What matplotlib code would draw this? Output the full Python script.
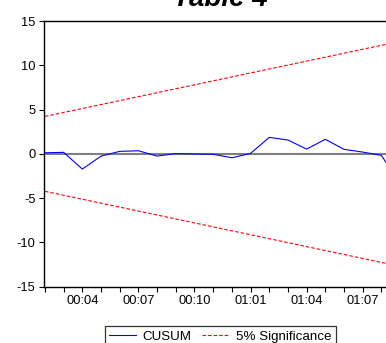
import matplotlib
matplotlib.use("Agg")
import matplotlib.pyplot as plt

plt.rcParams["font.family"] = ["Liberation Sans", "DejaVu Sans"]

# monthly periods (yy:mm)
months = ["00:02", "00:03", "00:04", "00:05", "00:06", "00:07", "00:08",
          "00:09", "00:10", "00:11", "00:12", "01:01", "01:02", "01:03",
          "01:04", "01:05", "01:06", "01:07", "01:08", "01:09"]
shown_labels = ["00:04", "00:07", "00:10", "01:01", "01:04", "01:07"]

cusum = [0.12, 0.17, -1.72, -0.26, 0.28, 0.35, -0.25, 0.03, -0.01, -0.05,
         -0.44, 0.05, 1.86, 1.56, 0.54, 1.64, 0.51, 0.20, -0.17, -3.4]

# 5% significance bounds (straight lines, first and last period)
upper_ends = [4.23, 12.7]
lower_ends = [-4.23, -12.7]

W, H = 386, 343
fig = plt.figure(figsize=(W / 100, H / 100), dpi=100)

# axes run past the right edge of the picture, like the cropped original
left_px, right_px, top_px, bottom_px = 44.0, 401.0, 21.0, 286.7
ax = fig.add_axes([left_px / W, (H - bottom_px) / H,
                   (right_px - left_px) / W, (bottom_px - top_px) / H])

x = list(range(len(months)))
ax.axhline(0, color="#808080", lw=1.5, zorder=1)
ax.plot(x, cusum, color="#0000ff", lw=0.8, label="CUSUM", zorder=3)
ends = [x[0], x[-1]]
ax.plot(ends, upper_ends, color="#ff0000", lw=0.8, ls=(0, (3.2, 1.8)),
        label="5% Significance", zorder=2)
ax.plot(ends, lower_ends, color="#ff0000", lw=0.8, ls=(0, (3.2, 1.8)), zorder=2)

ax.set_xlim(-0.05, 19.05)
ax.set_ylim(-15, 15)
ax.set_yticks([-15, -10, -5, 0, 5, 10, 15])
ax.set_yticklabels(["-15", "-10", "-5", "0", "5", "10", "15"])
ax.set_xticks(x)
ax.set_xticklabels([m if m in shown_labels else "" for m in months])

ax.tick_params(axis="both", direction="out", length=3.6, width=0.8,
               labelsize=9.3, colors="black", pad=2.5)
for s in ["left", "bottom", "top"]:
    ax.spines[s].set_linewidth(1.0)
ax.spines["right"].set_visible(False)

fig.text(220 / W, (H - 5.7) / H, "Table 4", ha="center", va="baseline",
         fontsize=20, fontweight="bold", fontstyle="italic")

leg = fig.legend(loc="upper center", bbox_to_anchor=(220.2 / W, (H - 326) / H),
                 ncol=2, fontsize=9.6, frameon=True, fancybox=False,
                 edgecolor="black", handlelength=2.0, handletextpad=0.5,
                 columnspacing=0.8, borderpad=0.35, borderaxespad=0)
leg.get_frame().set_linewidth(0.9)

fig.savefig("out.png", dpi=100)
